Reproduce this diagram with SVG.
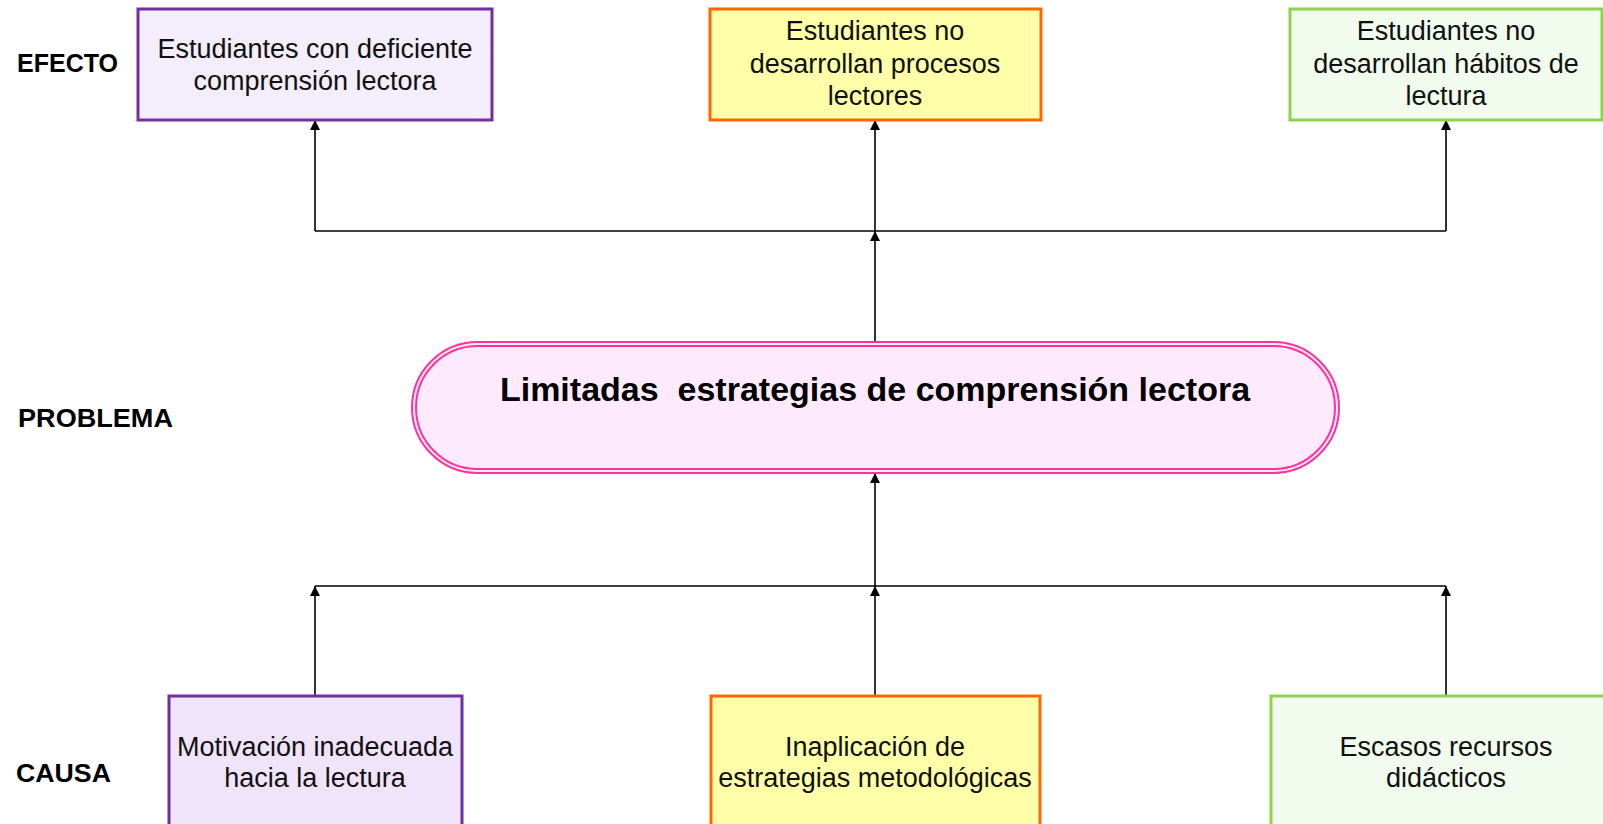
<svg xmlns="http://www.w3.org/2000/svg" width="1603" height="824" viewBox="0 0 1603 824">
<defs>
<style>
.lbl{font-family:"Liberation Sans",Arial,sans-serif;font-weight:bold;font-size:25px;fill:#000}
.t{font-family:"Liberation Sans",Arial,sans-serif;font-size:27px;fill:#111;text-anchor:middle}
.tb{font-family:"Liberation Sans",Arial,sans-serif;font-size:34px;font-weight:bold;fill:#000;text-anchor:middle}
.purple{fill:#F3EDFC;stroke:#7030A0;stroke-width:3}
.purple2{fill:#EFE4F9;stroke:#7030A0;stroke-width:3}
.orange{fill:#FFFFAA;stroke:#FF6600;stroke-width:3}
.green{fill:#F1FCEF;stroke:#92D050;stroke-width:3}
.conn{fill:none;stroke:#000;stroke-width:1.6}
</style>
<marker id="arr" viewBox="0 0 10 10" refX="10" refY="5" markerWidth="11" markerHeight="10" markerUnits="userSpaceOnUse" orient="auto">
<path d="M0,0 L10,5 L0,10 z" fill="#000"/>
</marker>
</defs>
<rect width="1603" height="824" fill="#fff"/>

<g id="labels">
<text class="lbl" x="17" y="72" textLength="101" lengthAdjust="spacingAndGlyphs">EFECTO</text>
<text class="lbl" x="18" y="427" textLength="155" lengthAdjust="spacingAndGlyphs">PROBLEMA</text>
<text class="lbl" x="16" y="782" textLength="95" lengthAdjust="spacingAndGlyphs">CAUSA</text>
</g>

<g id="connectors">
<path class="conn" d="M315,231 L315,120" marker-end="url(#arr)"/>
<path class="conn" d="M875,231 L875,120" marker-end="url(#arr)"/>
<path class="conn" d="M1446,231 L1446,120" marker-end="url(#arr)"/>
<path class="conn" d="M315,231 L1446,231"/>
<path class="conn" d="M875,342 L875,231" marker-end="url(#arr)"/>
<path class="conn" d="M315,586 L1446,586"/>
<path class="conn" d="M875,586 L875,473" marker-end="url(#arr)"/>
<path class="conn" d="M315,696 L315,586" marker-end="url(#arr)"/>
<path class="conn" d="M875,696 L875,586" marker-end="url(#arr)"/>
<path class="conn" d="M1446,696 L1446,586" marker-end="url(#arr)"/>
</g>

<g id="efecto1">
<rect class="purple" x="138" y="9" width="354" height="111"/>
<text class="t" x="315" y="58">Estudiantes con deficiente</text>
<text class="t" x="315" y="90">comprensión lectora</text>
</g>
<g id="efecto2">
<rect class="orange" x="710" y="9" width="331" height="111"/>
<text class="t" x="875" y="40">Estudiantes no</text>
<text class="t" x="875" y="73">desarrollan procesos</text>
<text class="t" x="875" y="105">lectores</text>
</g>
<g id="efecto3">
<rect class="green" x="1290" y="9" width="312" height="111"/>
<text class="t" x="1446" y="40">Estudiantes no</text>
<text class="t" x="1446" y="73">desarrollan hábitos de</text>
<text class="t" x="1446" y="105">lectura</text>
</g>

<g id="problema">
<rect x="412" y="342" width="927" height="131" rx="65.5" ry="65.5" fill="#FDEBFD" stroke="#FF3399" stroke-width="2"/>
<rect x="416" y="346" width="919" height="123" rx="61.5" ry="61.5" fill="none" stroke="#FF3399" stroke-width="2"/>
<text class="tb" x="875" y="401" xml:space="preserve">Limitadas  estrategias de comprensión lectora</text>
</g>

<g id="causa1">
<rect class="purple2" x="169" y="696" width="293" height="150"/>
<text class="t" x="315" y="756">Motivación inadecuada</text>
<text class="t" x="315" y="787">hacia la lectura</text>
</g>
<g id="causa2">
<rect class="orange" x="711" y="696" width="329" height="150"/>
<text class="t" x="875" y="756">Inaplicación de</text>
<text class="t" x="875" y="787">estrategias metodológicas</text>
</g>
<g id="causa3">
<rect class="green" x="1271" y="696" width="350" height="150"/>
<text class="t" x="1446" y="756">Escasos recursos</text>
<text class="t" x="1446" y="787">didácticos</text>
</g>
</svg>
